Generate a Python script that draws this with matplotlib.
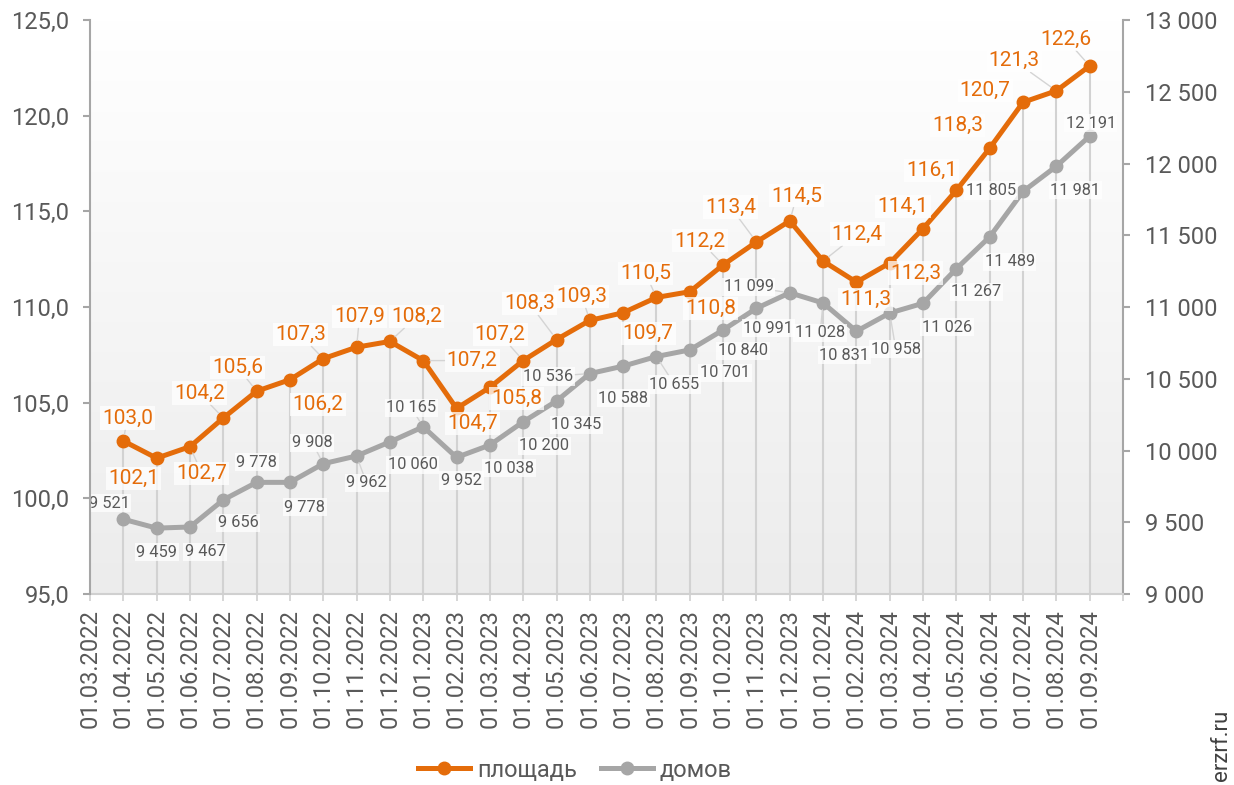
import numpy as np
import matplotlib.pyplot as plt
from matplotlib.colors import LinearSegmentedColormap

plt.rcParams['font.family'] = ['Roboto', 'DejaVu Sans']

dates = ['01.03.2022', '01.04.2022', '01.05.2022', '01.06.2022', '01.07.2022',
         '01.08.2022', '01.09.2022', '01.10.2022', '01.11.2022', '01.12.2022',
         '01.01.2023', '01.02.2023', '01.03.2023', '01.04.2023', '01.05.2023',
         '01.06.2023', '01.07.2023', '01.08.2023', '01.09.2023', '01.10.2023',
         '01.11.2023', '01.12.2023', '01.01.2024', '01.02.2024', '01.03.2024',
         '01.04.2024', '01.05.2024', '01.06.2024', '01.07.2024', '01.08.2024',
         '01.09.2024']

# values start at 01.04.2022, first category has no data
area = [103.0, 102.1, 102.7, 104.2, 105.6, 106.2, 107.3, 107.9, 108.2, 107.2,
        104.7, 105.8, 107.2, 108.3, 109.3, 109.7, 110.5, 110.8, 112.2, 113.4,
        114.5, 112.4, 111.3, 112.3, 114.1, 116.1, 118.3, 120.7, 121.3, 122.6]
houses = [9521, 9459, 9467, 9656, 9778, 9778, 9908, 9962, 10060, 10165,
          9952, 10038, 10200, 10345, 10536, 10588, 10655, 10701, 10840, 10991,
          11099, 11028, 10831, 10958, 11026, 11267, 11489, 11805, 11981, 12191]

# label offsets from the point, in pixels (dx, dy; dy positive = down)
area_off = [(4, -23), (-23, 20), (12, 27), (-24, -25), (-19, -24), (28, 25),
            (-23, -24), (3, -31), (27, -25), (49, 0), (16, 15), (27, 11),
            (-23, -26), (-27, -36), (-8, -24), (25, 21), (-11, -24), (21, 17),
            (-23, -24), (-26, -35), (7, -25), (34, -27), (9, 17), (26, 10),
            (-20, -22), (-25, -20), (-32, -23), (-38, -12), (-42, -30), (-24, -27)]
houses_off = [(-14, -16), (0, 24), (15, 25), (15, 23), (0, -20), (15, 25),
              (-11, -21), (10, 27), (23, 23), (-12, -19), (5, 23), (19, 23),
              (21, 24), (20, 24), (-42, 3), (0, 32), (18, 28), (35, 23),
              (20, 21), (12, 20), (-41, -6), (-3, 30), (-12, 24), (6, 36),
              (24, 24), (20, 23), (20, 25), (-32, -1), (19, 24), (1, -13)]
# labels that were dragged away and show a leader line
area_lead = {0, 2, 3, 4, 6, 7, 8, 9, 12, 13, 14, 16, 18, 19, 20, 21, 28, 29}
houses_lead = {6, 7, 9, 14, 16, 20, 21, 23}

orange = '#E46C0A'
grey = '#A6A6A6'
text_col = '#595959'

x = np.arange(1, len(dates))

fig = plt.figure(figsize=(12.34, 7.85), dpi=100)
ax2 = fig.add_axes([90 / 1234, 1 - 594 / 785, (1123 - 90) / 1234, (594 - 20) / 785])
ax = ax2.twinx()
ax.yaxis.tick_left()
ax2.yaxis.tick_right()
ax.set_zorder(2)
ax2.set_zorder(1)
ax.patch.set_visible(False)

# background gradient
cmap = LinearSegmentedColormap.from_list('bg', ['#ececec', '#ffffff'])
grad = np.linspace(0, 1, 256).reshape(-1, 1)
ax2.imshow(grad, extent=[0, 31, 9000, 13000], origin='lower', aspect='auto',
           cmap=cmap, zorder=0)

# drop lines from the top series
ax2.vlines(x, 95, area, colors='#d2d2d2', lw=1.5, transform=ax.transData, zorder=1)

ax2.plot(x, houses, color=grey, lw=3.6, marker='o', ms=9, zorder=3, label='домов')
ax.plot(x, area, color=orange, lw=3.6, marker='o', ms=9, zorder=3, label='площадь')

box = dict(boxstyle='square,pad=0.1', fc='white', ec='none', alpha=0.75)


def leader(on):
    if not on:
        return None
    return dict(arrowstyle='-', color='#d4d4d4', lw=1, shrinkA=0, shrinkB=5)


for i, (xi, v, (dx, dy)) in enumerate(zip(x, houses, houses_off)):
    ax2.annotate(f'{v:,}'.replace(',', ' '), (xi, v), xytext=(dx * 0.72, -dy * 0.72),
                 textcoords='offset points', ha='center', va='center',
                 fontsize=11.8, color=text_col, bbox=box,
                 arrowprops=leader(i in houses_lead), zorder=4)

for i, (xi, v, (dx, dy)) in enumerate(zip(x, area, area_off)):
    ax.annotate(f'{v:.1f}'.replace('.', ','), (xi, v), xytext=(dx * 0.72, -dy * 0.72),
                textcoords='offset points', ha='center', va='center',
                fontsize=15, color=orange, bbox=box,
                arrowprops=leader(i in area_lead), zorder=4)

ax.set_xlim(0, 31)
ax.set_ylim(95, 125)
ax2.set_ylim(9000, 13000)

ax.set_yticks(np.arange(95, 126, 5))
ax.set_yticklabels([f'{t:.1f}'.replace('.', ',') for t in np.arange(95, 126, 5)])
ax2.set_yticks(np.arange(9000, 13001, 500))
ax2.set_yticklabels([f'{t:,}'.replace(',', ' ') for t in np.arange(9000, 13001, 500)])
ax2.set_xticks(np.arange(32))
ax2.set_xticklabels(dates + [''], rotation=90)

ax.tick_params(axis='y', colors='#a6a6a6', labelcolor=text_col, labelsize=17,
               length=5, width=1.5, pad=10)
ax2.tick_params(axis='y', colors='#a6a6a6', labelcolor=text_col, labelsize=17,
                length=5, width=1.5, pad=11)
ax2.tick_params(axis='x', colors='#d0d0d0', labelcolor=text_col, labelsize=17,
                length=5, width=1.2, pad=6)
ax.tick_params(axis='x', bottom=False, labelbottom=False)

for s in ['top', 'right', 'bottom']:
    ax.spines[s].set_visible(False)
for s in ['top', 'left']:
    ax2.spines[s].set_visible(False)
ax.spines['left'].set_color('#a6a6a6')
ax.spines['left'].set_linewidth(1.5)
ax2.spines['right'].set_color('#a6a6a6')
ax2.spines['right'].set_linewidth(1.5)
ax2.spines['bottom'].set_color('#d0d0d0')
ax2.spines['bottom'].set_linewidth(1.5)

h1, l1 = ax.get_legend_handles_labels()
h2, l2 = ax2.get_legend_handles_labels()
leg = fig.legend(h1 + h2, l1 + l2, loc='center', bbox_to_anchor=(0.466, 0.019),
                 ncol=2, frameon=False, fontsize=17, handlelength=2.2,
                 handletextpad=0.3, columnspacing=1.0)
for t in leg.get_texts():
    t.set_color(text_col)

fig.text(1222 / 1234, 0.005, 'erzrf.ru', rotation=90, ha='center', va='bottom',
         fontsize=16, color='#404040')

fig.savefig('out.png', dpi=100)
